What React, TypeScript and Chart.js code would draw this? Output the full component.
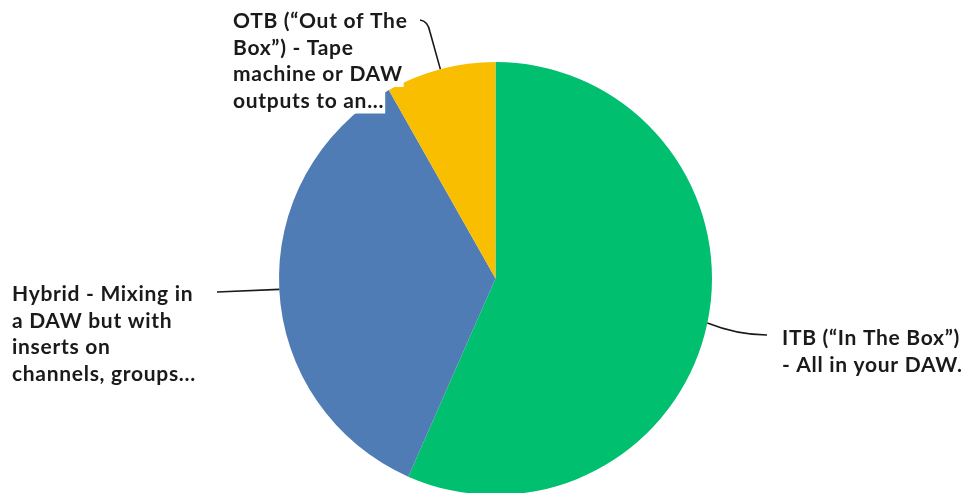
import React, { useEffect, useRef } from "react";
import { Chart, registerables } from "chart.js";

Chart.register(...registerables);

const categories = [
  "ITB (“In The Box”) - All in your DAW.",
  "Hybrid - Mixing in a DAW but with inserts on channels, groups…",
  "OTB (“Out of The Box”) - Tape machine or DAW outputs to an…",
];
const values = [56.6, 35.2, 8.2];
const colors = ["#00bf6f", "#507cb6", "#f9be00"];
const labelLines = [
  ["ITB (“In The Box”)", "- All in your DAW."],
  ["Hybrid - Mixing in", "a DAW but with", "inserts on", "channels, groups..."],
  ["OTB (“Out of The", "Box”) - Tape", "machine or DAW", "outputs to an..."],
];

// label placement (layout only)
const labelLayout = [
  { tx: 782, ty: 345, lx: 767, ly: 335, kind: "itb" },
  { tx: 12, ty: 301, lx: 217, ly: 292, kind: "hyb" },
  { tx: 233, ty: 28, lx: 420, ly: 20, kind: "otb" },
];

const FONT = "bold 21px Lato";
const LINE_H = 26.5;

const labelPlugin = {
  id: "leaderLabels",
  afterDatasetsDraw(chart: any) {
    const ctx = chart.ctx;
    const meta = chart.getDatasetMeta(0);
    ctx.save();
    meta.data.forEach((arc: any, i: number) => {
      const p = arc.getProps(["x", "y", "startAngle", "endAngle", "outerRadius"], true);
      const mid = (p.startAngle + p.endAngle) / 2;
      const ex = p.x + Math.cos(mid) * p.outerRadius;
      const ey = p.y + Math.sin(mid) * p.outerRadius;
      const L = labelLayout[i];
      ctx.strokeStyle = "#1a1a1a";
      ctx.lineWidth = 1.6;
      ctx.beginPath();
      ctx.moveTo(ex, ey);
      if (L.kind === "itb") {
        ctx.quadraticCurveTo(ex + 30, ey + 12, L.lx, L.ly);
      } else if (L.kind === "otb") {
        ctx.lineTo(L.lx + 10, L.ly + 12);
        ctx.quadraticCurveTo(L.lx + 8, L.ly + 1, L.lx, L.ly);
      } else {
        ctx.lineTo(L.lx, L.ly);
      }
      ctx.stroke();
      // text
      ctx.font = FONT;
      (ctx as any).letterSpacing = "0.7px";
      ctx.textBaseline = "alphabetic";
      ctx.textAlign = "left";
      labelLines[i].forEach((line, j) => {
        const y = L.ty + j * LINE_H;
        const w = ctx.measureText(line).width;
        ctx.fillStyle = "#ffffff";
        ctx.fillRect(L.tx - 1, y - 17, w + 2, 23);
      });
      ctx.fillStyle = "#1a1a1a";
      labelLines[i].forEach((line, j) => {
        ctx.fillText(line, L.tx, L.ty + j * LINE_H);
      });
    });
    ctx.restore();
  },
};

export default function App() {
  const ref = useRef<HTMLCanvasElement>(null);
  useEffect(() => {
    document.body.style.margin = "0";
    const chart = new Chart(ref.current!, {
      type: "pie",
      data: {
        labels: categories,
        datasets: [
          {
            data: values,
            backgroundColor: colors,
            borderWidth: 0,
          },
        ],
      },
      options: {
        animation: false,
        responsive: false,
        layout: { padding: { top: 62, bottom: 5, left: 279, right: 263 } },
        plugins: { legend: { display: false }, tooltip: { enabled: false } },
      },
      plugins: [labelPlugin],
    });
    return () => chart.destroy();
  }, []);
  return (
    <div style={{ position: "absolute", left: 0, top: 0, width: 975, height: 493, overflow: "hidden", background: "#fff" }}>
      <canvas ref={ref} width={975} height={500} style={{ width: 975, height: 500, display: "block" }} />
    </div>
  );
}
